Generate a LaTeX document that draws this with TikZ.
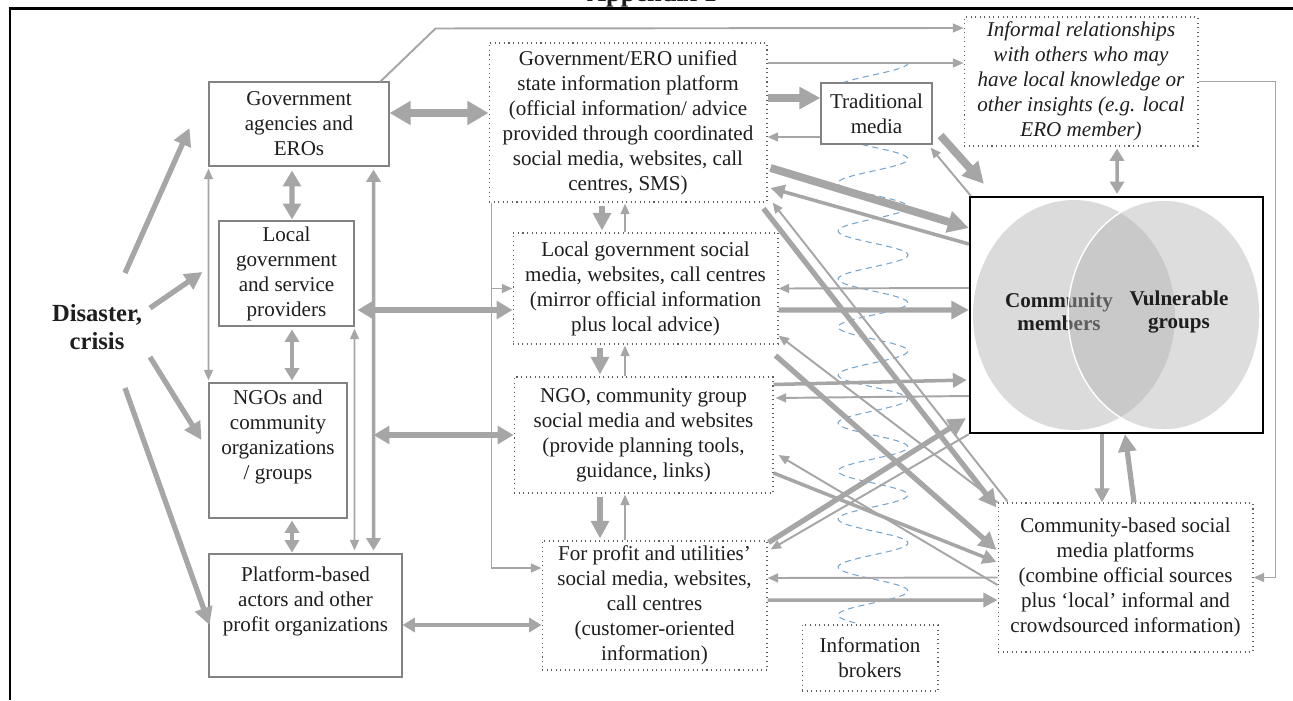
\documentclass[tikz,border=0pt]{standalone}
\usepackage{fontspec}
\setmainfont{Liberation Serif}
\usetikzlibrary{arrows.meta,calc}
\definecolor{arrgray}{RGB}{166,166,166}
\definecolor{boxgray}{RGB}{130,130,130}
\definecolor{dotgray}{RGB}{95,95,95}
\definecolor{wavecol}{RGB}{120,165,205}
\definecolor{txt}{RGB}{30,30,30}

\begin{document}
\begin{tikzpicture}[x=0.02cm, y=-0.02cm,
    every node/.style={font=\fontsize{12}{14.2}\selectfont, text=txt, align=center, inner sep=1pt},
    solidbox/.style={draw=boxgray, line width=0.6pt, fill=white},
    dotbox/.style={draw=dotgray, dotted, line width=0.6pt, fill=white},
    thinarr/.style={draw=arrgray, line width=1.1pt, -{Triangle[length=6pt,width=5pt]}},
    thinboth/.style={draw=arrgray, line width=1.1pt, {Triangle[length=6pt,width=5pt]}-{Triangle[length=6pt,width=5pt]}},
    medarr/.style={draw=arrgray, line width=2pt, -{Triangle[length=8pt,width=8pt]}},
    medboth/.style={draw=arrgray, line width=2pt, {Triangle[length=7pt,width=8pt]}-{Triangle[length=7pt,width=8pt]}},
    bigarr/.style={draw=arrgray, line width=3pt, -{Triangle[length=10pt,width=10pt]}},
    bigboth/.style={draw=arrgray, line width=3pt, {Triangle[length=9pt,width=10pt]}-{Triangle[length=9pt,width=10pt]}},
    hugearr/.style={draw=arrgray, line width=4.5pt, -{Triangle[length=12pt,width=12pt]}},
    hugeboth/.style={draw=arrgray, line width=4.5pt, {Triangle[length=12pt,width=13pt]}-{Triangle[length=12pt,width=13pt]}},
    wave/.style={draw=wavecol, line width=0.6pt, dash pattern=on 3.5pt off 2.5pt}]

    \useasboundingbox (0,0) rectangle (1293,700);

    % Frame and title
    \node[font=\fontsize{15}{18}\selectfont\bfseries, anchor=base] (title) at (652,1.5) {Appendix 1};
    \draw[line width=1.6pt] (10,700) -- (10,8.5) -- (1293,8.5);

    % Information flow (coil)
    \draw[wave] plot[domain=63:623, samples=300, smooth, variable=\t] ({873+35*cos(7.5*(\t-63))}, \t);

    % Actors
    \node[font=\fontsize{14}{16}\selectfont\bfseries] (disaster) at (97,327) {Disaster,\\crisis};
    \node[solidbox, minimum width=3.6cm, minimum height=1.68cm] (gov) at (299,124) {Government\\agencies and\\EROs};
    \node[solidbox, minimum width=2.7cm, minimum height=2.1cm] (localgov) at (286.5,273.5) {Local\\government\\and service\\providers};
    \node[solidbox, minimum width=2.76cm, minimum height=2.7cm] (ngos) at (278,450.5) {NGOs and\\community\\organizations\\/ groups\\ \strut};
    \node[solidbox, minimum width=3.86cm, minimum height=2.46cm] (platform) at (305.5,615.5) {Platform-based\\actors and other\\profit organizations\\ \strut};

    % Platforms
    \node[dotbox, minimum width=5.56cm, minimum height=3.18cm] (state) at (628,122.5) {Government/ERO unified\\state information platform\\(official information/ advice\\provided through coordinated\\social media, websites, call\\centres, SMS)};
    \node[dotbox, minimum width=5.3cm, minimum height=2.22cm] (lgsocial) at (645.5,288.5) {Local government social\\media, websites, call centres\\(mirror official information\\plus local advice)};
    \node[dotbox, minimum width=5.18cm, minimum height=2.32cm] (ngosocial) at (643.5,435) {NGO, community group\\social media and websites\\(provide planning tools,\\guidance, links)};
    \node[dotbox, minimum width=4.5cm, minimum height=2.58cm] (profit) at (654.5,605.5) {For profit and utilities'\\social media, websites,\\call centres\\(customer-oriented\\information)};
    \node[dotbox, minimum width=2.72cm, minimum height=1.32cm] (brokers) at (870,658) {Information\\brokers};
    \node[solidbox, minimum width=2.22cm, minimum height=1.22cm] (tradmedia) at (876.5,113.5) {Traditional\\media};
    \node[dotbox, minimum width=4.68cm, minimum height=2.58cm, font=\fontsize{12}{14.2}\selectfont\itshape] (informal) at (1081,81.5) {Informal relationships\\with others who may\\have local knowledge or\\other insights (e.g. local\\ERO member)};
    \node[dotbox, minimum width=5.1cm, minimum height=2.98cm] (cbased) at (1125.5,577.5) {Community-based social\\media platforms\\(combine official sources\\plus `local' informal and\\crowdsourced information)};

    % Community
    \node[draw=black, line width=1.3pt, fill=white, minimum width=5.86cm, minimum height=4.72cm] (commbox) at (1116.5,315) {};
    \fill[black!14] (1074,315) ellipse [x radius=2.02cm, y radius=2.3cm];
    \node[font=\fontsize{12}{13}\selectfont\bfseries] (members) at (1059,312) {Community\\members};
    \fill[black!30, fill opacity=0.43] (1164,315) ellipse [x radius=1.92cm, y radius=2.3cm];
    \draw[white, line width=0.8pt] (1164,315) ellipse [x radius=1.92cm, y radius=2.3cm];
    \node[font=\fontsize{12}{13}\selectfont\bfseries] (vulnerable) at (1179,312) {Vulnerable\\groups};

    % From the disaster
    \draw[bigarr] ($(disaster)+(28,-54)$) -- ($(gov.west)+(-19,4)$);
    \draw[bigarr] ($(disaster)+(53,-19)$) -- ($(localgov.west)+(-16,-1.5)$);
    \draw[bigarr] ($(disaster)+(53,30)$) -- ($(ngos.west)+(-7,-10.5)$);
    \draw[bigarr] ($(disaster)+(28,61)$) -- ($(platform.west)+(1,9.5)$);

    % Between actors
    \draw[bigboth] ($(gov.south)+(-7,4)$) -- ($(localgov.north)+(5.5,-1)$);
    \draw[medboth] ($(localgov.south)+(5.5,3)$) -- ($(ngos.north)+(14,-2)$);
    \draw[medboth] ($(ngos.south)+(14,2)$) -- ($(platform.north)+(-13.5,-1)$);
    \draw[thinboth] ($(gov.south west)+(0,2)$) -- ($(ngos.north west)+(0,-2)$);
    \draw[medboth] ($(gov.south east)+(-16,3)$) -- ($(platform.north east)+(-29,-3)$);
    \draw[thinboth] ($(localgov.south east)+(0,2)$) -- ($(platform.north east)+(-48,-3)$);

    % Actors to platforms
    \draw[hugeboth] ($(gov.east)+(0,-11)$) -- ($(state.west)+(0,-9.5)$);
    \draw[bigboth] ($(localgov.east)+(3,36.5)$) -- ($(lgsocial.west)+(0,21.5)$);
    \draw[bigboth] ($(ngos.east)+(26,-15.5)$) -- (ngosocial.west);
    \draw[medboth] ($(platform.east)+(0,9.5)$) -- ($(profit.west)+(0,19.5)$);
    \draw[thinarr] ($(gov.north east)+(-9,0)$) -- ($(gov.north east)+(46,-53)$) -- ($(informal.west)+(0,-53.5)$);

    % Down the platform column
    \coordinate (branch) at ($(state.south west)+(3,0)$);
    \draw[thinarr] (branch) |- (lgsocial.west);
    \draw[thinarr] (branch) |- ($(profit.west)+(0,-37.5)$);
    \draw[bigarr] ($(state.south)+(-26,3)$) -- ($(lgsocial.north)+(-43.5,-2)$);
    \draw[thinarr] ($(lgsocial.north)+(-20.5,0)$) -- ($(state.south)+(-3,1)$);
    \draw[bigarr] ($(lgsocial.south)+(-45.5,3)$) -- ($(ngosocial.north)+(-43.5,-2)$);
    \draw[thinarr] ($(ngosocial.north)+(-18.5,0)$) -- ($(lgsocial.south)+(-20.5,1)$);
    \draw[bigarr] ($(ngosocial.south)+(-43.5,3)$) -- ($(profit.north)+(-54.5,-2)$);
    \draw[thinarr] ($(profit.north)+(-29.5,0)$) -- ($(ngosocial.south)+(-18.5,1)$);

    % Top right
    \draw[thinarr] ($(state.east)+(0,-59.5)$) -- ($(informal.west)+(0,-18.5)$);
    \draw[hugearr] ($(state.east)+(0,-24.5)$) -- ($(tradmedia.west)+(0,-15.5)$);
    \draw[thinarr] ($(tradmedia.west)+(0,23.5)$) -- ($(state.east)+(0,14.5)$);
    \draw[hugearr] ($(tradmedia.south east)+(8,-9)$) -- ($(commbox.north west)+(15,-12)$);
    \draw[thinarr] ($(commbox.north west)+(2,0)$) -- ($(tradmedia.south east)+(-2,3)$);
    \draw[medboth] ($(informal.south)+(36,2)$) -- ($(commbox.north)+(0.5,-2)$);
    \draw[thinarr] (informal.east) -- ++(77,0) |- (cbased.east);
    \draw[medarr] ($(commbox.south)+(-14.5,0)$) -- ($(cbased.north)+(-23.5,0)$);
    \draw[bigarr] ($(cbased.north)+(8.5,0)$) -- ($(commbox.south)+(8.5,0)$);

    % State platform to community
    \draw[hugearr] ($(state.east)+(3,45.5)$) -- ($(commbox.west)+(0,-87)$);
    \draw[medarr] ($(commbox.west)+(0,-71)$) -- ($(state.east)+(3,65.5)$);
    \draw[bigarr] ($(state.south east)+(-4,6)$) -- ($(cbased.north west)+(-1,5)$);
    \draw[thinarr] ($(cbased.north west)+(10,-1)$) -- ($(state.south east)+(5,0)$);

    % Local government to community
    \draw[thinarr] ($(commbox.west)+(0,-27)$) -- (lgsocial.east);
    \draw[bigarr] ($(lgsocial.east)+(0,21.5)$) -- ($(commbox.west)+(0,-5)$);
    \draw[bigarr] ($(lgsocial.south east)+(-3,11)$) -- ($(cbased.west)+(-1,-27.5)$);
    \draw[thinarr] (cbased.north west) -- ($(lgsocial.south east)+(0,-9)$);

    % NGO to community
    \draw[medarr] ($(ngosocial.north east)+(0,8)$) -- ($(commbox.west)+(-2,65)$);
    \draw[thinarr] ($(commbox.west)+(0,81)$) -- ($(ngosocial.east)+(2,-37)$);
    \draw[medarr] ($(ngosocial.east)+(0,38)$) -- ($(cbased.west)+(-1,-15.5)$);
    \draw[thinarr] ($(cbased.west)+(0,7.5)$) -- ($(ngosocial.east)+(5,20)$);

    % For profit to community
    \draw[bigarr] ($(profit.north east)+(1,2)$) -- ($(commbox.south west)+(-3,-16)$);
    \draw[thinarr] (commbox.south west) -- ($(profit.north east)+(3,9)$);
    \draw[thinarr] (cbased.west) -- ($(profit.east)+(0,-27.5)$);
    \draw[medarr] ($(profit.east)+(0,-5.5)$) -- ($(cbased.west)+(0,22.5)$);
\end{tikzpicture}
\end{document}
